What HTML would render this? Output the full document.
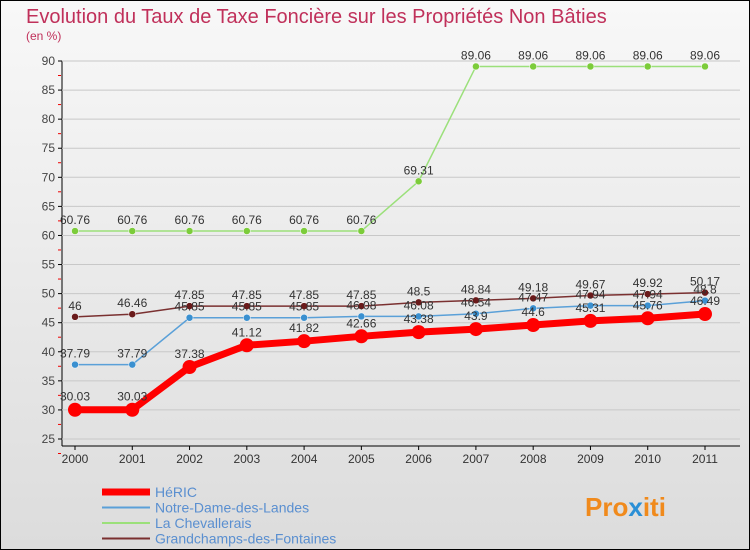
<!DOCTYPE html>
<html><head><meta charset="utf-8"><style>
body{margin:0;background:#fff}
svg{display:block;font-family:"Liberation Sans",sans-serif}
</style></head><body>
<svg width="750" height="550" xmlns="http://www.w3.org/2000/svg">
<defs><linearGradient id="bg" x1="0" y1="0" x2="0" y2="1"><stop offset="0" stop-color="#f8f8f8"/><stop offset="1" stop-color="#dcdcdc"/></linearGradient></defs>
<rect x="0.5" y="0.5" width="749" height="549" fill="url(#bg)" stroke="#000"/>
<text x="26" y="23" font-size="20" fill="#c0305a">Evolution du Taux de Taxe Foncière sur les Propriétés Non Bâties</text>
<text x="26" y="40" font-size="12" fill="#c0305a">(en %)</text>
<g id="axes"></g>
<g id="series"></g>
<g id="legend"></g>
<text x="585" y="516" font-size="26" font-weight="bold" fill="#f08a1c">Pro<tspan fill="#2a8fd6">x</tspan>iti</text>
</svg>
<script>
const years=[2000,2001,2002,2003,2004,2005,2006,2007,2008,2009,2010,2011];
const yTicks=[25,30,35,40,45,50,55,60,65,70,75,80,85,90];
const heric=[30.03,30.03,37.38,41.12,41.82,42.66,43.38,43.9,44.6,45.31,45.76,46.49];
const notreDame=[37.79,37.79,45.85,45.85,45.85,46.08,46.08,46.54,47.47,47.94,47.94,48.8];
const chevallerais=[60.76,60.76,60.76,60.76,60.76,60.76,69.31,89.06,89.06,89.06,89.06,89.06];
const grandchamps=[46,46.46,47.85,47.85,47.85,47.85,48.5,48.84,49.18,49.67,49.92,50.17];
const NS="http://www.w3.org/2000/svg";
const X=i=>75+i*(630/11);
const Y=v=>439-(v-25)*(378/65);
function mk(tag,attrs,parent,text){const e=document.createElementNS(NS,tag);for(const k in attrs)e.setAttribute(k,attrs[k]);if(text!==undefined)e.textContent=text;parent.appendChild(e);return e;}
const ax=document.getElementById('axes');
let a=mk('line',{x1:62,y1:61,x2:62,y2:446,stroke:'#000'},ax);


a=mk('line',{x1:62,y1:446,x2:740,y2:446,stroke:'#000'},ax);


yTicks.forEach(v=>{
 const g=mk('line',{x1:62,y1:Y(v),x2:740,y2:Y(v),stroke:'#c8c8c8'},ax);
 
 
 mk('line',{x1:58,y1:Y(v),x2:62,y2:Y(v),stroke:'#000'},ax);
 mk('line',{x1:58,y1:Y(v)+14.5,x2:61,y2:Y(v)+14.5,stroke:'#e00'},ax);
 const t=mk('text',{x:55,y:Y(v)+4,'font-size':12,'text-anchor':'end',fill:'#444'},ax,String(v));
 
 
});
years.forEach((yr,i)=>{
 mk('line',{x1:X(i),y1:446,x2:X(i),y2:450,stroke:'#000'},ax);
 const t=mk('text',{x:X(i),y:463,'font-size':12,'text-anchor':'middle',fill:'#333'},ax,String(yr));
 
 
});
const sg=document.getElementById('series');
function series(vals,color,w,r,dot,name,labels,dy){
 const g=mk('g',{},sg);
 
 
 mk('polyline',{points:vals.map((v,i)=>X(i)+','+Y(v)).join(' '),fill:'none',stroke:color,'stroke-width':w},g);
 vals.forEach((v,i)=>{
  const c=mk('circle',{cx:X(i),cy:Y(v),r:r,fill:dot,stroke:'#fff','stroke-width':r>5?0:0.5},g);
  
  
  if(labels){const t=mk('text',{x:X(i),y:Y(v)+dy,'font-size':12,'text-anchor':'middle',fill:'#333'},g,String(v));
   
   }
 });
}
series(chevallerais,'#9be07a',1.5,3.5,'#7ccc3a','series-la-chevallerais',true,-7);
series(grandchamps,'#7a3030',1.5,3.5,'#6a1a1a','series-grandchamps',true,-7);
series(notreDame,'#5aa0d8',1.5,3.5,'#3a90d0','series-notre-dame',true,-7);
series(heric,'#ff0000',7,7,'#ff0000','series-heric',true,-9);
const lg=document.getElementById('legend');
const items=[['HéRIC','#ff0000',7],['Notre-Dame-des-Landes','#5aa0d8',2],['La Chevallerais','#9be07a',2],['Grandchamps-des-Fontaines','#7a3030',2]];
items.forEach((it,k)=>{
 const y=492+k*15.5;
 const g=mk('g',{},lg);
 
 
 mk('line',{x1:102,y1:y,x2:150,y2:y,stroke:it[1],'stroke-width':it[2]},g);
 mk('text',{x:155,y:y+5,'font-size':14,fill:'#5a8fd0'},g,it[0]);
});
</script>
</body></html>
